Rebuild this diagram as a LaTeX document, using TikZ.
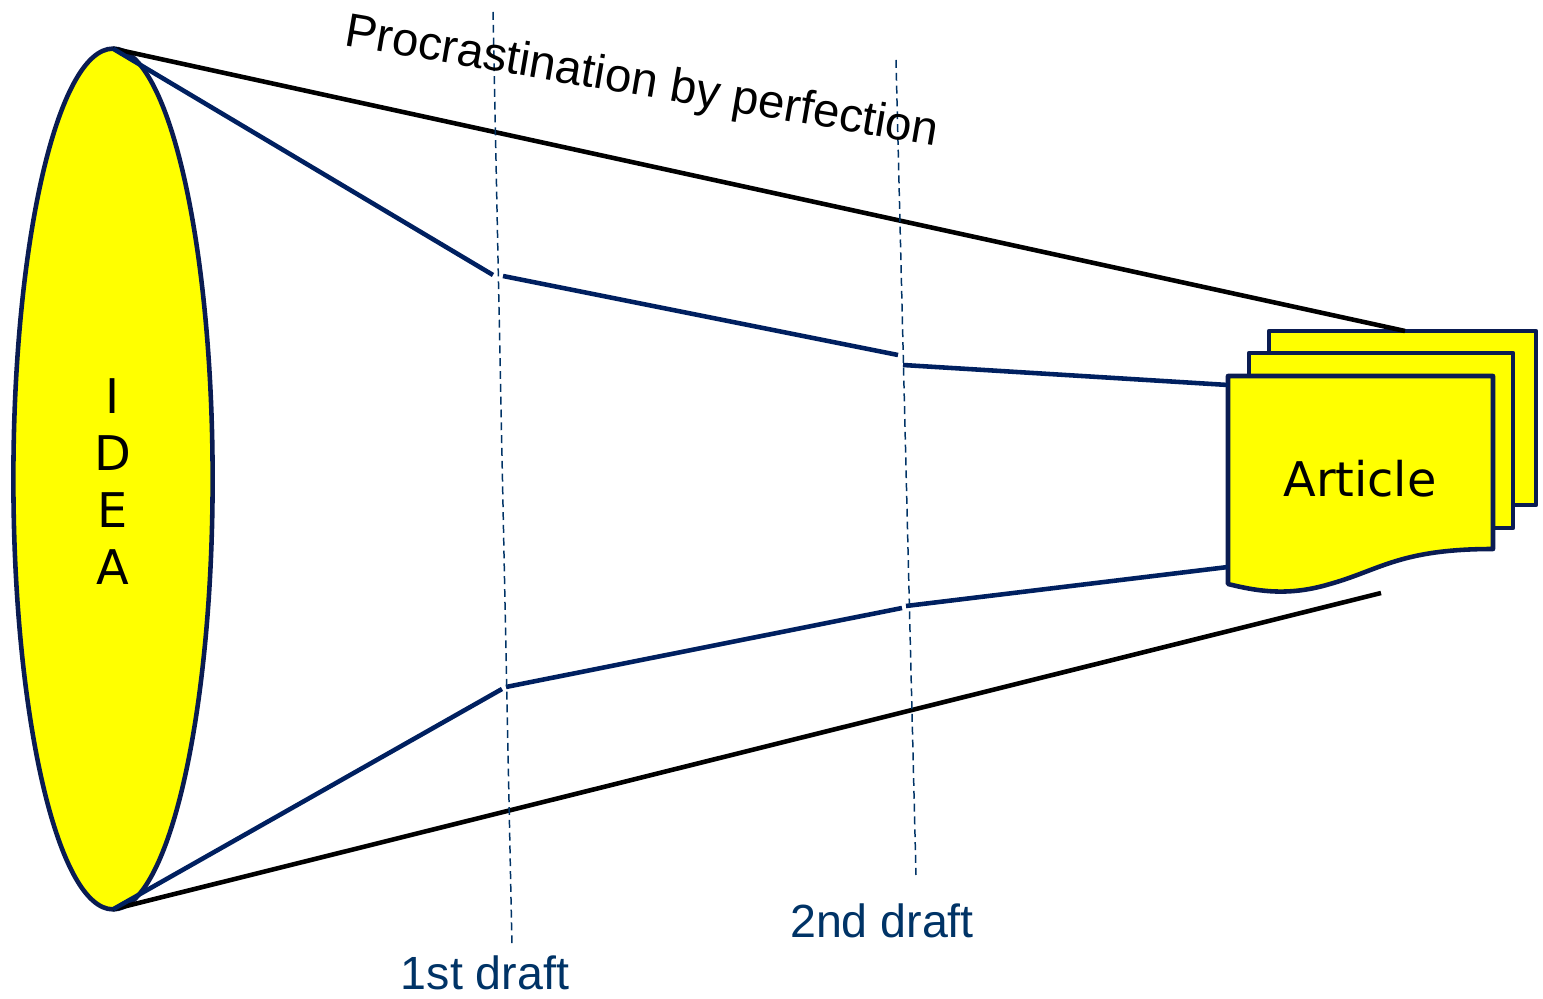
\documentclass[tikz,border=0pt]{standalone}
\usepackage{fontspec}
\setmainfont{Liberation Sans}
\newfontfamily\verd{DejaVu Sans}
\usetikzlibrary{shapes.geometric}
\definecolor{navy}{HTML}{002060}
\definecolor{edge}{HTML}{0A1C52}
\definecolor{draftblue}{HTML}{003366}
\definecolor{fillyellow}{HTML}{FFFF00}
\tikzset{
  thickblue/.style={draw=navy,line width=2.6pt},
  thickblack/.style={draw=black,line width=2.6pt},
  draftline/.style={draw=draftblue,line width=0.85pt,dash pattern=on 4.5pt off 2.8pt},
  page/.style={draw=edge,fill=fillyellow,line width=2.6pt,line join=round},
  draftlabel/.style={text=draftblue,inner sep=0pt,font=\fontsize{26.5}{32}\selectfont},
}
\begin{document}
\begin{tikzpicture}[x=0.02cm,y=-0.02cm]
\useasboundingbox (0,0) rectangle (1543,999);
% idea ellipse
\node[ellipse,page,minimum width=113.4pt,minimum height=489.9pt,inner sep=0pt,outer sep=0pt] (idea) at (113,479) {};
\node[inner sep=0pt,align=center,font=\verd\fontsize{27.2}{32.3}\selectfont] (idealabel) at (113,481.5) {I\\D\\E\\A};
% article stack
\draw[page] (1269,331) rectangle (1536,505);
\draw[page] (1249,353) rectangle (1513,528);
\draw[page] (1228,376) -- (1493,376) -- (1493,549)
   .. controls (1400,549) and (1380,570) .. (1330,584)
   .. controls (1290,596) and (1260,592) .. (1228,584) -- cycle;
\node[inner sep=0pt,anchor=base,font=\verd\fontsize{27.2}{32}\selectfont] (article) at (1360,497) {Article};
% named points
\coordinate (backtop) at (1405,331);
\coordinate (botend) at (1381,593);
\coordinate (t1a) at (493,275);
\coordinate (t1b) at (503,276);
\coordinate (t2a) at (898,355);
\coordinate (t2b) at (903,365);
\coordinate (tend) at (1228,385);
\coordinate (b1a) at (502,689);
\coordinate (b1b) at (506,687);
\coordinate (b2a) at (902,608);
\coordinate (b2b) at (906,606);
\coordinate (bend) at (1228,567);
\coordinate (d1top) at (493,12);
\coordinate (d1bot) at (512,948);
\coordinate (d2top) at (896,60);
\coordinate (d2bot) at (916,875);
% outer black lines
\draw[thickblack] (idea.north) -- (backtop);
\draw[thickblack] (idea.south) -- (botend);
% blue lines
\draw[thickblue] (idea.north) -- (t1a);
\draw[thickblue] (t1b) -- (t2a);
\draw[thickblue] (t2b) -- (tend);
\draw[thickblue] (idea.south) -- (b1a);
\draw[thickblue] (b1b) -- (b2a);
\draw[thickblue] (b2b) -- (bend);
% draft lines
\draw[draftline] (d1top) -- (d1bot);
\draw[draftline] (d2top) -- (d2bot);
% labels
\node[draftlabel,anchor=base] (first) at (485,990) {1st draft};
\node[draftlabel,anchor=base] (second) at (882,938) {2nd draft};
\node[inner sep=0pt,anchor=base west,rotate=-9.7,font=\fontsize{27}{32}\selectfont] (procr) at (343,45) {Procrastination by perfection};
\end{tikzpicture}
\end{document}
